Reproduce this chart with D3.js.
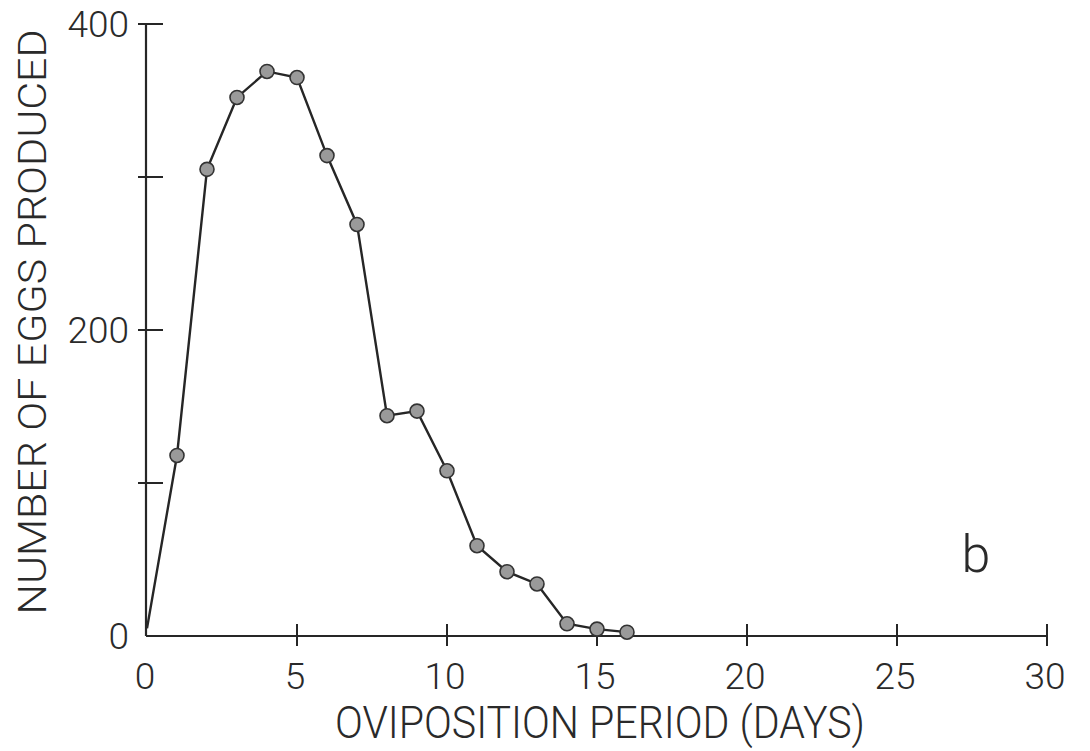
<!DOCTYPE html>
<html>
<head>
<meta charset="utf-8">
<script src="https://cdn.jsdelivr.net/npm/d3@7"></script>
<style>
  html, body { margin: 0; padding: 0; background: #fff; }
  svg text { font-family: Roboto, "Open Sans", sans-serif; font-weight: 300; fill: #2a2a2a; }
</style>
</head>
<body>
<svg id="chart" width="1090" height="751"></svg>
<script>
// Daily egg output over the oviposition period
const days = [0, 1, 2, 3, 4, 5, 6, 7, 8, 9, 10, 11, 12, 13, 14, 15, 16];
const eggs = [5, 118, 305, 352, 369, 365, 314, 269, 144, 147, 108, 59, 42, 34, 8, 4.5, 2.5];

const xTicks = [0, 5, 10, 15, 20, 25, 30];
const yTicks = [0, 100, 200, 300, 400];
const yTickLabels = ["0", "", "200", "", "400"];

const svg = d3.select("#chart");
const x = d3.scaleLinear().domain([0, 30]).range([147, 1047]);
const y = d3.scaleLinear().domain([0, 400]).range([636, 24]);

const ink = "#262626";

// axis lines
svg.append("line")
  .attr("x1", x(0) - 1).attr("x2", x(30))
  .attr("y1", y(0)).attr("y2", y(0))
  .attr("stroke", ink).attr("stroke-width", 2.2);
svg.append("line")
  .attr("x1", x(0) - 1).attr("x2", x(0) - 1)
  .attr("y1", y(0)).attr("y2", y(400))
  .attr("stroke", ink).attr("stroke-width", 2.2);

// x ticks cross the axis
svg.selectAll(".xt").data(xTicks.filter(d => d > 0)).join("line")
  .attr("x1", d => x(d)).attr("x2", d => x(d))
  .attr("y1", y(0) - 12).attr("y2", y(0) + 10)
  .attr("stroke", ink).attr("stroke-width", 2);

svg.selectAll(".xl").data(xTicks).join("text")
  .attr("x", d => x(d) - 2).attr("y", y(0) + 53)
  .attr("text-anchor", "middle")
  .attr("font-size", 37)
  .text(d => d);

// y ticks
svg.selectAll(".yt").data(yTicks.filter(d => d > 0)).join("line")
  .attr("x1", x(0) - 9).attr("x2", x(0) + 16)
  .attr("y1", d => y(d)).attr("y2", d => y(d))
  .attr("stroke", ink).attr("stroke-width", 2);

svg.selectAll(".yl").data(yTicks).join("text")
  .attr("x", x(0) - 18).attr("y", d => y(d) + 13)
  .attr("text-anchor", "end")
  .attr("font-size", 37)
  .text((d, i) => yTickLabels[i]);

// axis titles
svg.append("text")
  .attr("x", 600).attr("y", 738)
  .attr("text-anchor", "middle")
  .attr("font-size", 44)
  .attr("textLength", 530).attr("lengthAdjust", "spacingAndGlyphs")
  .text("OVIPOSITION PERIOD (DAYS)");

svg.append("text")
  .attr("transform", "translate(46,322) rotate(-90)")
  .attr("text-anchor", "middle")
  .attr("font-size", 38)
  .attr("textLength", 585).attr("lengthAdjust", "spacingAndGlyphs")
  .text("NUMBER OF EGGS PRODUCED");

// panel letter
svg.append("text")
  .attr("x", 976).attr("y", 572)
  .attr("text-anchor", "middle")
  .attr("font-size", 52)
  .text("b");

// series
const pts = days.map((d, i) => [d, eggs[i]]);
svg.append("path")
  .datum(pts)
  .attr("fill", "none")
  .attr("stroke", ink).attr("stroke-width", 2.4)
  .attr("d", d3.line().x(d => x(d[0])).y(d => y(d[1])));

svg.selectAll(".pt").data(pts.slice(1)).join("circle")
  .attr("cx", d => x(d[0])).attr("cy", d => y(d[1]))
  .attr("r", 7)
  .attr("fill", "#9a9a9a")
  .attr("stroke", "#333").attr("stroke-width", 1.6);
</script>
</body>
</html>
